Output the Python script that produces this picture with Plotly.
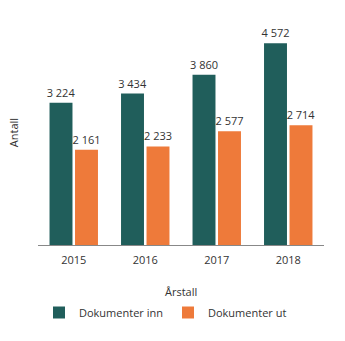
import plotly.graph_objects as go

years = ["2015", "2016", "2017", "2018"]
inn = [3224, 3434, 3860, 4572]
ut = [2161, 2233, 2577, 2714]
series_names = ["Dokumenter inn", "Dokumenter ut"]
colors = ["#205e5b", "#ee7a3a"]

def fmt(v):
    return f"{v:,}".replace(",", " ")

font_family = "Open Sans, Noto Sans, sans-serif"
fig = go.Figure()
for name, vals, col in zip(series_names, [inn, ut], colors):
    fig.add_trace(go.Bar(
        x=years, y=vals, name=name, marker_color=col, marker_line_width=0,
        text=[fmt(v) for v in vals], textposition="outside", constraintext="none",
        textfont=dict(size=11, color="#333333", family=font_family),
        cliponaxis=False,
    ))

fig.update_layout(
    width=345, height=341,
    margin=dict(l=38, r=21, t=20, b=96, autoexpand=False),
    paper_bgcolor="white", plot_bgcolor="white",
    barmode="group", bargap=0.287, bargroupgap=0.1,
    font=dict(family=font_family, size=11, color="#333333"),
    showlegend=True,
    legend=dict(orientation="h", x=0.4545, xanchor="center", y=-0.3, yanchor="middle",
                font=dict(size=11, color="#333333"), itemwidth=30,
                entrywidth=84, entrywidthmode="pixels"),
    xaxis=dict(showline=True, linecolor="#888888", linewidth=1, ticks="outside",
               ticklen=5, tickcolor="rgba(0,0,0,0)", tickfont=dict(size=11),
               showgrid=False),
    yaxis=dict(range=[0, 5100], showticklabels=False, showgrid=False,
               zeroline=False, showline=False),
    annotations=[
        dict(text="Årstall", xref="paper", yref="paper", x=0.5, y=-0.205,
             xanchor="center", yanchor="middle", showarrow=False, font=dict(size=11)),
        dict(text="Antall", xref="paper", yref="paper", x=-0.085, y=0.5,
             xanchor="center", yanchor="middle", showarrow=False, textangle=-90,
             font=dict(size=11)),
    ],
)
fig.write_html("out.html")
